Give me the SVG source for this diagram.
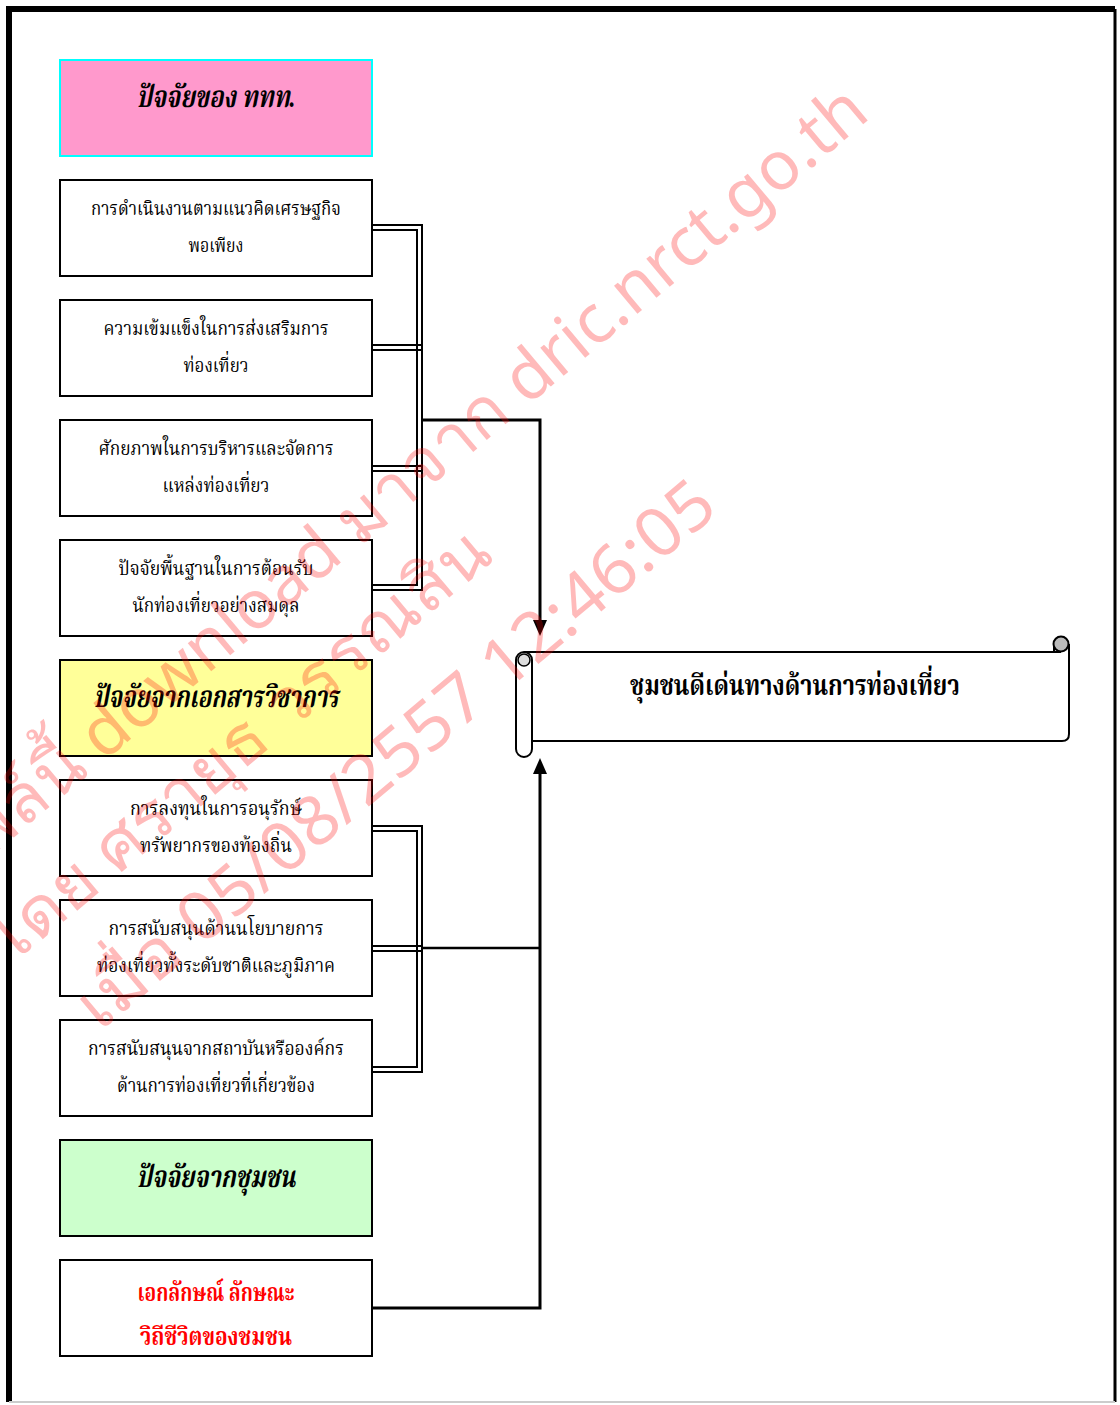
<svg xmlns="http://www.w3.org/2000/svg" width="1120" height="1405" viewBox="0 0 1120 1405">
<style>
.box{fill:#fff;stroke:#000;stroke-width:2}
.t{font-family:"Liberation Serif","Noto Serif Thai","Noto Sans Thai",serif;font-size:20px;text-anchor:middle;fill:#000}
.h{font-weight:bold;font-style:italic;font-size:30px}
.r{fill:#FF0000;font-weight:bold;font-size:24px}
.s{font-weight:bold;font-size:28px}
.c{fill:none;stroke:#000;stroke-width:2}
.m{fill:none;stroke:#000;stroke-width:3}
.wm{font-family:"Noto Sans","DejaVu Sans",sans-serif;font-size:68px;fill:#FF0000;fill-opacity:0.27}
</style>
<defs>
<marker id="arr" viewBox="0 0 16 14" refX="2" refY="7" markerWidth="16" markerHeight="14" markerUnits="userSpaceOnUse" orient="auto">
<path d="M0,0 L16,7 L0,14 Z" fill="#000"/>
</marker>
</defs>
<rect x="0" y="0" width="1120" height="1405" fill="#fff"/>
<g id="frame">
<path d="M9,1402 V9 H1115" fill="none" stroke="#000" stroke-width="6"/>
<path d="M1115,9 V1402" fill="none" stroke="#000" stroke-width="3"/>
<path d="M9,1402 H1115" fill="none" stroke="#ccc" stroke-width="2"/>
</g>
<g id="connectors">
<path class="c" d="M372,225 H422 V590 H372"/>
<path class="c" d="M372,230 H417 V585 H372"/>
<path class="c" d="M372,345 H422 M372,350 H422 M372,466 H422 M372,471 H422"/>
<path class="m" d="M422,420 H540 V622" marker-end="url(#arr)"/>
<path class="c" d="M372,826 H422 V1072 H372"/>
<path class="c" d="M372,831 H417 V1067 H372"/>
<path class="c" d="M372,946 H422 M372,951 H422"/>
<path class="c" d="M422,948 H540" style="stroke-width:2.5"/>
<path class="m" d="M372,1308 H540 V772" marker-end="url(#arr)"/>
</g>
<g id="n-tat">
<rect x="60" y="60" width="312" height="96" fill="#FF99CC" stroke="#00FFFF" stroke-width="2"/>
<text class="t h" x="216" y="107" textLength="159" lengthAdjust="spacingAndGlyphs">ปัจจัยของ ททท.</text>
</g>
<g id="n1">
<rect class="box" x="60" y="180" width="312" height="96"/>
<text class="t" x="216" y="215" textLength="250" lengthAdjust="spacingAndGlyphs">การดำเนินงานตามแนวคิดเศรษฐกิจ</text>
<text class="t" x="216" y="252" textLength="55" lengthAdjust="spacingAndGlyphs">พอเพียง</text>
</g>
<g id="n2">
<rect class="box" x="60" y="300" width="312" height="96"/>
<text class="t" x="216" y="335" textLength="225" lengthAdjust="spacingAndGlyphs">ความเข้มแข็งในการส่งเสริมการ</text>
<text class="t" x="216" y="372" textLength="65" lengthAdjust="spacingAndGlyphs">ท่องเที่ยว</text>
</g>
<g id="n3">
<rect class="box" x="60" y="420" width="312" height="96"/>
<text class="t" x="216" y="455" textLength="235" lengthAdjust="spacingAndGlyphs">ศักยภาพในการบริหารและจัดการ</text>
<text class="t" x="216" y="492" textLength="107" lengthAdjust="spacingAndGlyphs">แหล่งท่องเที่ยว</text>
</g>
<g id="n4">
<rect class="box" x="60" y="540" width="312" height="96"/>
<text class="t" x="216" y="575" textLength="195" lengthAdjust="spacingAndGlyphs">ปัจจัยพื้นฐานในการต้อนรับ</text>
<text class="t" x="216" y="612" textLength="167" lengthAdjust="spacingAndGlyphs">นักท่องเที่ยวอย่างสมดุล</text>
</g>
<g id="n-doc">
<rect x="60" y="660" width="312" height="96" fill="#FFFF99" stroke="#000" stroke-width="2"/>
<text class="t h" x="216" y="707" textLength="245" lengthAdjust="spacingAndGlyphs">ปัจจัยจากเอกสารวิชาการ</text>
</g>
<g id="n7">
<rect class="box" x="60" y="780" width="312" height="96"/>
<text class="t" x="216" y="815" textLength="172" lengthAdjust="spacingAndGlyphs">การลงทุนในการอนุรักษ์</text>
<text class="t" x="216" y="852" textLength="152" lengthAdjust="spacingAndGlyphs">ทรัพยากรของท้องถิ่น</text>
</g>
<g id="n8">
<rect class="box" x="60" y="900" width="312" height="96"/>
<text class="t" x="216" y="935" textLength="215" lengthAdjust="spacingAndGlyphs">การสนับสนุนด้านนโยบายการ</text>
<text class="t" x="216" y="972" textLength="238" lengthAdjust="spacingAndGlyphs">ท่องเที่ยวทั้งระดับชาติและภูมิภาค</text>
</g>
<g id="n9">
<rect class="box" x="60" y="1020" width="312" height="96"/>
<text class="t" x="216" y="1055" textLength="256" lengthAdjust="spacingAndGlyphs">การสนับสนุนจากสถาบันหรือองค์กร</text>
<text class="t" x="216" y="1092" textLength="198" lengthAdjust="spacingAndGlyphs">ด้านการท่องเที่ยวที่เกี่ยวข้อง</text>
</g>
<g id="n-com">
<rect x="60" y="1140" width="312" height="96" fill="#CCFFCC" stroke="#000" stroke-width="2"/>
<text class="t h" x="216" y="1187" textLength="159" lengthAdjust="spacingAndGlyphs">ปัจจัยจากชุมชน</text>
</g>
<g id="n-id">
<rect class="box" x="60" y="1260" width="312" height="96"/>
<text class="t r" x="216" y="1301" textLength="157" lengthAdjust="spacingAndGlyphs">เอกลักษณ์ ลักษณะ</text>
<text class="t r" x="216" y="1345" textLength="152" lengthAdjust="spacingAndGlyphs">วิถีชีวิตของชมชน</text>
</g>
<g id="n-target">
<path d="M524,652 H1069 V734 Q1069,741 1062,741 H524 Z" fill="#fff"/>
<path class="c" d="M524,652 H1061"/>
<path class="c" d="M1069,644 V734 Q1069,741 1062,741 H532"/>
<path class="c" d="M1054,645 V652"/>
<circle cx="1061" cy="644" r="7.5" fill="#bbb" stroke="#000" stroke-width="2"/>
<path d="M516,660 A8,8 0 0 1 532,660 V749 A8,8 0 0 1 516,749 Z" fill="#fff" stroke="#000" stroke-width="2"/>
<circle cx="524" cy="660" r="6" fill="#ddd" stroke="#000" stroke-width="1.5"/>
<text class="t s" x="795" y="695" textLength="330" lengthAdjust="spacingAndGlyphs">ชุมชนดีเด่นทางด้านการท่องเที่ยว</text>
</g>
<g id="watermark" class="wm">
<text transform="translate(872,117) rotate(-40)" text-anchor="end">ไฟล์นี้ download มาจาก dric.nrct.go.th</text>
<text transform="translate(8,968) rotate(-40)" textLength="636" lengthAdjust="spacingAndGlyphs">โดย ศรายุธ วรรณสิน</text>
<text transform="translate(100,1032) rotate(-40)" textLength="810" lengthAdjust="spacingAndGlyphs">เมื่อ 05/08/2557 12:46:05</text>
</g>
</svg>
